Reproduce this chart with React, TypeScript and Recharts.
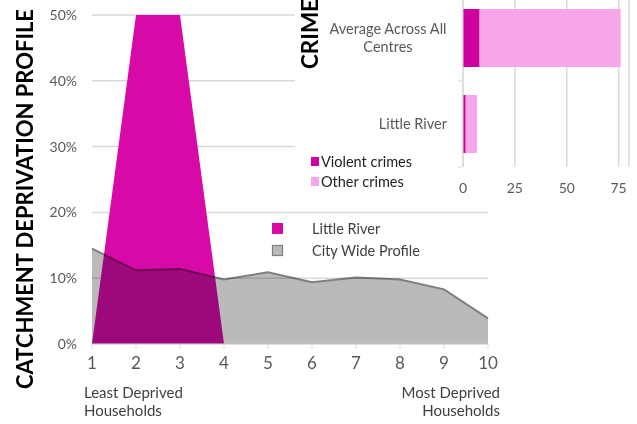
import React from 'react';
import { AreaChart, Area, XAxis, YAxis, CartesianGrid, BarChart, Bar } from 'recharts';

// ---- Data ----
const deciles = [1, 2, 3, 4, 5, 6, 7, 8, 9, 10];
const littleRiver = [0, 50, 50, 0, 0, 0, 0, 0, 0, 0];
const cityWide = [14.5, 11.2, 11.4, 9.8, 10.9, 9.4, 10.1, 9.8, 8.3, 3.9];
const yTicks = [0, 10, 20, 30, 40, 50];

const crimeCategories = ['Average Across All Centres', 'Little River'];
const violentCrimes = [8, 1.3];
const otherCrimes = [68, 5.4];
const crimeTicks = [0, 25, 50, 75];

// ---- Styles ----
const FONT = 'Lato, "Open Sans", sans-serif';
const MAGENTA = '#d80aa7';
const GREY_FILL = '#bababa';
const GREY_LINE = '#7f7f7f';
const VIOLENT = '#cf00a0';
const OTHER = '#f8a6ec';
const GRID = '#d9d9d9';
const TICK = '#595959';
const TEXT = '#404040';

const profileData = deciles.map((d, i) => ({ decile: d, littleRiver: littleRiver[i], cityWide: cityWide[i] }));
const crimeData = crimeCategories.map((c, i) => ({ name: c, violent: violentCrimes[i], other: otherCrimes[i] }));

const CategoryTick = (props: any) => {
  const { x, y, payload } = props;
  const label: string = payload.value;
  const lines = label === 'Average Across All Centres' ? ['Average Across All', 'Centres'] : [label];
  const lh = 18;
  const start = -((lines.length - 1) * lh) / 2;
  const multi = lines.length > 1;
  return (
    <g>
      <line x1={x + 11} x2={x + 15} y1={y + 43} y2={y + 43} stroke={GRID} />
      <text
        x={multi ? x - 59 : x}
        y={y}
        textAnchor={multi ? 'middle' : 'end'}
        fill={TICK}
        fontSize={14.5}
        fontFamily={FONT}
      >
        {lines.map((l, i) => (
          <tspan key={i} x={multi ? x - 59 : x} y={y + start + i * lh} dy="0.36em">
            {l}
          </tspan>
        ))}
      </text>
    </g>
  );
};

export default function App() {
  return (
    <div style={{ position: 'absolute', left: 0, top: 0, width: 637, height: 424, background: '#fff', overflow: 'hidden', fontFamily: FONT }}>
      <style>{`
        .profile .recharts-area.cityArea { mix-blend-mode: multiply; }
      `}</style>
      <div className="profile" style={{ position: 'absolute', left: 0, top: 0 }}>
        <AreaChart width={637} height={424} data={profileData} margin={{ top: 15, right: 149, bottom: 50, left: 0 }}>
          <CartesianGrid vertical={false} stroke={GRID} strokeWidth={1.5} />
          <XAxis
            dataKey="decile"
            type="number"
            domain={[1, 10]}
            ticks={deciles}
            interval={0}
            stroke={GRID}
            tickSize={5}
            tickMargin={8}
            height={30}
            tick={{ fill: TICK, fontSize: 17, fontFamily: FONT }}
          />
          <YAxis
            domain={[0, 50]}
            ticks={yTicks}
            width={92}
            axisLine={false}
            tickLine={false}
            tickSize={0}
            tickMargin={15}
            allowDataOverflow
            tickFormatter={(v: number) => `${v}%`}
            tick={{ fill: TICK, fontSize: 14, fontFamily: FONT }}
          />
          <Area dataKey="littleRiver" type="linear" fill={MAGENTA} fillOpacity={1} stroke="none" isAnimationActive={false} />
          <Area
            className="cityArea"
            dataKey="cityWide"
            type="linear"
            fill={GREY_FILL}
            fillOpacity={1}
            stroke={GREY_LINE}
            strokeWidth={2}
            isAnimationActive={false}
          />
        </AreaChart>
      </div>

      {/* Crime inset */}
      <div style={{ position: 'absolute', left: 295, top: 0, width: 342, height: 205, background: '#fff', overflow: 'hidden' }}>
        <div style={{ position: 'absolute', left: 0, top: -5 }}>
          <BarChart
            width={342}
            height={215}
            data={crimeData}
            layout="vertical"
            barSize={58}
            margin={{ top: 0, right: 8, bottom: 18, left: 0 }}
          >
            <CartesianGrid horizontal={false} stroke={GRID} strokeWidth={1.5} />
            <XAxis
              type="number"
              domain={[0, 80]}
              ticks={crimeTicks}
              axisLine={false}
              tickLine={false}
              tickSize={0}
              tickMargin={16}
              height={25}
              tick={{ fill: TICK, fontSize: 14, fontFamily: FONT }}
            />
            <YAxis
              type="category"
              dataKey="name"
              width={168}
              stroke={GRID}
              tickLine={false}
              tickSize={0}
              tickMargin={16}
              tick={<CategoryTick />}
            />
            <Bar dataKey="violent" stackId="c" fill={VIOLENT} isAnimationActive={false} />
            <Bar dataKey="other" stackId="c" fill={OTHER} isAnimationActive={false} />
          </BarChart>
        </div>
      </div>

      {/* Titles, labels and legends */}
      <svg width={637} height={424} style={{ position: 'absolute', left: 0, top: 0, pointerEvents: 'none' }}>
        <text
          transform="translate(25,199) rotate(-90)"
          textAnchor="middle"
          dy="0.36em"
          fontFamily={FONT}
          fontWeight="bold"
          fontSize={22}
          fill="#000"
          textLength={380}
          lengthAdjust="spacingAndGlyphs"
        >
          CATCHMENT DEPRIVATION PROFILE
        </text>
        <text
          transform="translate(310,34) rotate(-90)"
          textAnchor="middle"
          dy="0.36em"
          fontFamily={FONT}
          fontWeight="bold"
          fontSize={22}
          fill="#000"
          textLength={70}
          lengthAdjust="spacingAndGlyphs"
        >
          CRIME
        </text>

        <text x={84} y={393} dy="0.36em" fontFamily={FONT} fontSize={15} fill={TEXT}>Least Deprived</text>
        <text x={84} y={411} dy="0.36em" fontFamily={FONT} fontSize={15} fill={TEXT}>Households</text>
        <text x={500} y={393} dy="0.36em" textAnchor="end" fontFamily={FONT} fontSize={15} fill={TEXT}>Most Deprived</text>
        <text x={500} y={411} dy="0.36em" textAnchor="end" fontFamily={FONT} fontSize={15} fill={TEXT}>Households</text>

        {/* main legend */}
        <rect x={272} y={223} width={11} height={11} fill={MAGENTA} />
        <text x={312} y={228.5} dy="0.36em" fontFamily={FONT} fontSize={14.5} fill={TEXT}>Little River</text>
        <rect x={272.5} y={245.5} width={10} height={10} fill={GREY_FILL} stroke={GREY_LINE} strokeWidth={1.2} />
        <text x={312} y={250.5} dy="0.36em" fontFamily={FONT} fontSize={14.5} fill={TEXT}>City Wide Profile</text>

        {/* crime legend */}
        <rect x={311} y={157} width={8} height={9} fill={VIOLENT} />
        <text x={321} y={161.5} dy="0.36em" fontFamily={FONT} fontSize={14.5} fill="#222">Violent crimes</text>
        <rect x={311} y={177} width={8} height={9} fill={OTHER} />
        <text x={321} y={181.5} dy="0.36em" fontFamily={FONT} fontSize={14.5} fill="#222">Other crimes</text>
      </svg>
    </div>
  );
}
